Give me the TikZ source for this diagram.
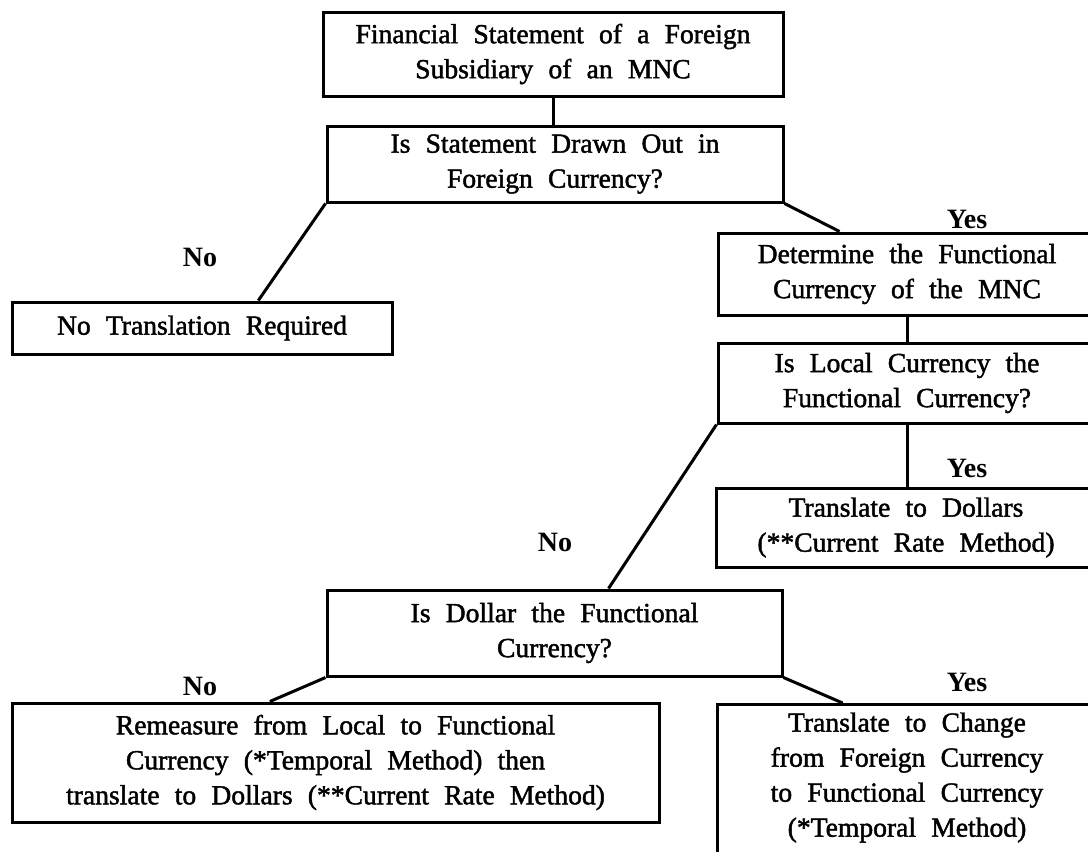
\documentclass[tikz,border=0pt]{standalone}
\usepackage{fontspec}
\setmainfont{Liberation Serif}
\newfontfamily\scanfam{Liberation Serif}[BoldFont=Liberation Serif, BoldFeatures={FakeBold=1.6}]
\usetikzlibrary{calc}

\newcommand\boxfont{\scanfam\bfseries\fontsize{13.8}{17.5}\selectfont\spaceskip=0.55em plus 0.2em}
\newcommand\labfont{\fontsize{14}{17}\selectfont\bfseries}

\tikzset{
  box/.style={draw, line width=1.5pt, inner sep=0pt, align=center, font=\boxfont},
  lab/.style={inner sep=0pt, font=\labfont},
  link/.style={line width=1.5pt}
}

\begin{document}
\begin{tikzpicture}[x=0.5pt, y=-0.5pt]

   \useasboundingbox (0,0) rectangle (1088,852);
   \clip (0,0) rectangle (1088,852);

   % boxes
   \node[box, minimum width=230pt, minimum height=42pt] (stmt) at (553,54)
      {Financial Statement of a Foreign\\Subsidiary of an MNC};
   \node[box, minimum width=228pt, minimum height=38pt] (drawn) at (555,164)
      {Is Statement Drawn Out in\\Foreign Currency?};
   \node[box, minimum width=190pt, minimum height=26pt] (notrans) at (202,328)
      {No Translation Required};
   \node[box, minimum width=189pt, minimum height=41pt] (detfunc) at (907,274)
      {Determine the Functional\\Currency of the MNC};
   \node[box, minimum width=189pt, minimum height=40pt] (local) at (907,383)
      {Is Local Currency the\\Functional Currency?};
   \node[box, minimum width=190pt, minimum height=39.5pt] (todollar) at (906,527.5)
      {Translate to Dollars\\(**Current Rate Method)};
   \node[box, minimum width=227.5pt, minimum height=43pt] (dollar) at (554.5,633)
      {Is Dollar the Functional\\Currency?};
   \node[box, minimum width=323.5pt, minimum height=59.5pt] (remeasure) at (335.5,762.5)
      {Remeasure from Local to Functional\\Currency (*Temporal Method) then\\translate to Dollars (**Current Rate Method)};
   \node[box, minimum width=190pt, inner ysep=4pt, text depth=62pt, anchor=north] (tochange) at (907,703)
      {Translate to Change\\from Foreign Currency\\to Functional Currency\\(*Temporal Method)};

   % answers
   \node[lab] (no1) at (200,257) {No};
   \node[lab] (yes1) at (967,219) {Yes};
   \node[lab] (yes2) at (967,468) {Yes};
   \node[lab] (no2) at (555,542) {No};
   \node[lab] (no3) at (200,686) {No};
   \node[lab] (yes3) at (967,682) {Yes};

   % connectors
   \draw[link] (stmt.south) -- (stmt.south |- drawn.north);
   \draw[link] (drawn.south west) -- ($(notrans.north west)!0.647!(notrans.north east)$);
   \draw[link] (drawn.south east) -- ($(detfunc.north west)!0.323!(detfunc.north east)$);
   \draw[link] (detfunc.south) -- (local.north);
   \draw[link] (local.south) -- (local.south |- todollar.north);
   \draw[link] (local.south west) -- ($(dollar.north west)!0.618!(dollar.north east)$);
   \draw[link] (dollar.south west) -- ($(remeasure.north west)!0.399!(remeasure.north east)$);
   \draw[link] (dollar.south east) -- ($(tochange.north west)!0.332!(tochange.north east)$);

 \end{tikzpicture}
\end{document}
